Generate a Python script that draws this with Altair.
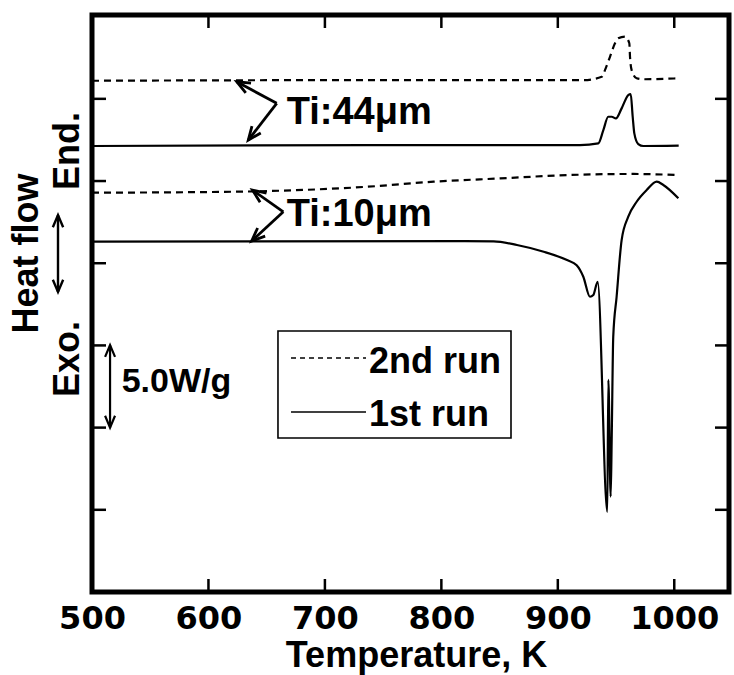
import math
import altair as alt
import pandas as pd

# ---------------- data ----------------
X_DOMAIN = [500, 1047]
Y_DOMAIN = [0, 35.1]
W, H = 637, 577

ti44_2nd_T = [500, 736, 922, 937.7, 940.5, 944.8, 949.1, 951.9, 957.7, 961.4, 962.0, 963.4, 967.7, 973.4, 1003.8]
ti44_2nd_H = [31.10, 31.14, 31.14, 31.34, 31.75, 32.56, 33.38, 33.68, 33.78, 33.38, 32.56, 31.75, 31.25, 31.19, 31.25]

ti44_1st_T = [500, 736, 919, 934.8, 939.1, 943.3, 946.3, 949.9, 954.8, 960.5, 962.6, 964.3, 965.7, 969.1, 973.4, 1003.8]
ti44_1st_H = [27.13, 27.19, 27.19, 27.29, 28.10, 28.91, 28.91, 28.81, 29.42, 30.23, 30.29, 28.91, 27.90, 27.25, 27.13, 27.15]

ti10_2nd_T = [500, 621.3, 735.9, 793.4, 850.6, 907.9, 965.1, 1003.8]
ti10_2nd_H = [24.29, 24.35, 24.65, 24.96, 25.16, 25.36, 25.43, 25.36]

ti10_1st_T = [500, 820.0, 844.9, 864.9, 887.9, 907.9, 916.2, 921.9, 927.6, 930.5, 934.2, 942.5, 943.4,
              945.4, 946.3, 947.6, 950.5, 954.8, 960.5, 967.7, 976.3, 984.9, 990.6, 1003.5]
ti10_1st_H = [21.31, 21.35, 21.33, 21.11, 20.70, 20.19, 19.88, 19.18, 17.96, 18.07, 18.87, 4.88, 12.90,
              5.80, 9.45, 15.53, 17.96, 21.41, 22.83, 23.74, 24.45, 24.96, 24.76, 23.95]

x_tick_values = [500, 600, 700, 800, 900, 1000]
x_minor_ticks = [600, 700, 800, 900, 1000]
y_ticks = [5, 10, 15, 20, 25, 30]

# annotation arrows (tail = vertex, head = tip on the curve)
arrow_T1 = [658.6, 658.6, 664.3, 664.3]
arrow_H1 = [29.73, 29.73, 23.13, 23.13]
arrow_T2 = [624.3, 634.2, 637.8, 637.1]
arrow_H2 = [31.04, 27.49, 24.45, 21.35]

label_text = ["Ti:44\u03bcm", "Ti:10\u03bcm"]
label_T = [667.2, 667.2]
label_H = [28.47, 22.26]

# 5.0 W/g scale bar
bar_T = 515.5
bar_H = [10.0, 15.02]
bar_text = "5.0W/g"
bar_text_T = 525.5
bar_text_H = 12.18

# legend box
legend_box_T = [659.7, 859.8]
legend_box_H = [9.37, 15.88]
legend_line_T = [670.9, 735.3]
legend_line_H = [14.23, 10.95]
legend_text = ["2nd run", "1st run"]
legend_text_T = 737.9
legend_text_H = [13.35, 10.10]

# ---------------- helpers ----------------
PXK = W / (X_DOMAIN[1] - X_DOMAIN[0])
PXH = H / (Y_DOMAIN[1] - Y_DOMAIN[0])


def head_angle(x1, y1, x2, y2):
    dx = (x2 - x1) * PXK
    dy = -(y2 - y1) * PXH
    return math.degrees(math.atan2(dy, dx)) % 360


x_axis = alt.Axis(values=x_tick_values, format="d", labelFont="DejaVu Sans", labelFontWeight="bold",
                  labelFontSize=32, labelColor="black", labelPadding=11, ticks=False, tickSize=0,
                  domain=False, grid=False, labelFlush=False,
                  title="Temperature, K", titleFont="Liberation Sans", titleFontWeight="bold",
                  titleFontSize=36, titleColor="black", titleX=324, titleY=74,
                  titleAlign="center", titleBaseline="alphabetic")
y_axis = alt.Axis(labels=False, ticks=False, tickSize=0, domain=False, grid=False,
                  title="Heat flow", titleFont="Liberation Sans", titleFontWeight="bold",
                  titleFontSize=36, titleColor="black", titleAngle=270, titleX=-66, titleY=238,
                  titleAlign="center", titleBaseline="middle")

XS = alt.Scale(domain=X_DOMAIN, nice=False, zero=False)
YS = alt.Scale(domain=Y_DOMAIN, nice=False, zero=False)


def xenc():
    return alt.X("T:Q", scale=XS, axis=x_axis)


def yenc():
    return alt.Y("H:Q", scale=YS, axis=y_axis)


ARROW = "M-1,-0.42L0,0L-1,0.42"

layers = []

# curves
curves = [
    (ti44_2nd_T, ti44_2nd_H, True),
    (ti44_1st_T, ti44_1st_H, False),
    (ti10_2nd_T, ti10_2nd_H, True),
    (ti10_1st_T, ti10_1st_H, False),
]
for Ts, Hs, dashed in curves:
    df = pd.DataFrame({"T": Ts, "H": Hs, "i": list(range(len(Ts)))})
    kw = dict(interpolate="monotone", strokeWidth=2.2, color="black")
    if dashed:
        kw["strokeDash"] = [7, 5]
    layers.append(alt.Chart(df).mark_line(**kw).encode(x=xenc(), y=yenc(), order="i:Q"))

# inward ticks
xt = pd.DataFrame({"T": x_minor_ticks})
yt = pd.DataFrame({"H": y_ticks})
layers.append(alt.Chart(xt).mark_rule(color="black", strokeWidth=2.5).encode(
    x=xenc(), y=alt.value(H), y2=alt.value(H - 13)))
layers.append(alt.Chart(xt).mark_rule(color="black", strokeWidth=2.5).encode(
    x=xenc(), y=alt.value(0), y2=alt.value(13)))
layers.append(alt.Chart(yt).mark_rule(color="black", strokeWidth=2.5).encode(
    y=yenc(), x=alt.value(0), x2=alt.value(14)))
layers.append(alt.Chart(yt).mark_rule(color="black", strokeWidth=2.5).encode(
    y=yenc(), x=alt.value(W), x2=alt.value(W - 14)))

# annotation arrows
adf = pd.DataFrame({"T": arrow_T1, "H": arrow_H1, "T2": arrow_T2, "H2": arrow_H2})
layers.append(alt.Chart(adf).mark_rule(color="black", strokeWidth=2.8).encode(
    x=xenc(), y=yenc(), x2="T2:Q", y2="H2:Q"))
hdf = pd.DataFrame({"T": arrow_T2, "H": arrow_H2,
                    "ang": [head_angle(a, b, c, d) for a, b, c, d in zip(arrow_T1, arrow_H1, arrow_T2, arrow_H2)]})
layers.append(alt.Chart(hdf).mark_point(shape=ARROW, filled=False, color="black", strokeWidth=2.8,
                                        size=700, opacity=1, strokeJoin="miter").encode(
    x=xenc(), y=yenc(), angle=alt.Angle("ang:Q", scale=None)))

# labels Ti:44um / Ti:10um
ldf = pd.DataFrame({"T": label_T, "H": label_H, "label": label_text})
layers.append(alt.Chart(ldf).mark_text(align="left", baseline="alphabetic", font="Liberation Sans",
                                       fontWeight="bold", fontSize=38, color="black").encode(
    x=xenc(), y=yenc(), text="label:N"))

# scale bar
bdf = pd.DataFrame({"T": [bar_T], "H": [bar_H[0]], "H2": [bar_H[1]]})
layers.append(alt.Chart(bdf).mark_rule(color="black", strokeWidth=2.2).encode(
    x=xenc(), y=yenc(), y2="H2:Q"))
bhdf = pd.DataFrame({"T": [bar_T, bar_T], "H": bar_H, "ang": [90, 270]})
layers.append(alt.Chart(bhdf).mark_point(shape=ARROW, filled=False, color="black", strokeWidth=2.2,
                                         size=560, opacity=1).encode(
    x=xenc(), y=yenc(), angle=alt.Angle("ang:Q", scale=None)))
btdf = pd.DataFrame({"T": [bar_text_T], "H": [bar_text_H], "label": [bar_text]})
layers.append(alt.Chart(btdf).mark_text(align="left", baseline="alphabetic", font="Liberation Sans",
                                        fontWeight="bold", fontSize=34, color="black").encode(
    x=xenc(), y=yenc(), text="label:N"))

# legend box
lbdf = pd.DataFrame({"T": [legend_box_T[0]], "T2": [legend_box_T[1]],
                     "H": [legend_box_H[0]], "H2": [legend_box_H[1]]})
layers.append(alt.Chart(lbdf).mark_rect(fill="white", stroke="black", strokeWidth=1.6).encode(
    x=xenc(), x2="T2:Q", y=yenc(), y2="H2:Q"))
ld1 = pd.DataFrame({"T": [legend_line_T[0]], "T2": [legend_line_T[1]], "H": [legend_line_H[0]]})
layers.append(alt.Chart(ld1).mark_rule(color="black", strokeWidth=1.5, strokeDash=[5, 4]).encode(
    x=xenc(), x2="T2:Q", y=yenc()))
ld2 = pd.DataFrame({"T": [legend_line_T[0]], "T2": [legend_line_T[1]], "H": [legend_line_H[1]]})
layers.append(alt.Chart(ld2).mark_rule(color="black", strokeWidth=1.5).encode(
    x=xenc(), x2="T2:Q", y=yenc()))
ltdf = pd.DataFrame({"T": [legend_text_T] * 2, "H": legend_text_H, "label": legend_text})
layers.append(alt.Chart(ltdf).mark_text(align="left", baseline="alphabetic", font="Liberation Sans",
                                        fontWeight="bold", fontSize=36, color="black").encode(
    x=xenc(), y=yenc(), text="label:N"))

# y-axis side labels: End. / Exo. and double arrow
one = pd.DataFrame({"k": [0]})
side_text = ["End.", "Exo."]
side_y = [136, 344]
for t, yy in zip(side_text, side_y):
    layers.append(alt.Chart(one).mark_text(align="center", baseline="middle", angle=270,
                                           font="Liberation Sans", fontWeight="bold", fontSize=36,
                                           color="black").encode(
        x=alt.value(-24), y=alt.value(yy), text=alt.value(t)))
layers.append(alt.Chart(one).mark_rule(color="black", strokeWidth=2.4).encode(
    x=alt.value(-34), y=alt.value(200), y2=alt.value(277)))
for yy, ang in [(200, 270), (277, 90)]:
    layers.append(alt.Chart(one).mark_point(shape=ARROW, filled=False, color="black", strokeWidth=2.4,
                                            size=600, opacity=1).encode(
        x=alt.value(-34), y=alt.value(yy), angle=alt.value(ang)))

# heavy frame
layers.append(alt.Chart(one).mark_rect(filled=False, stroke="black", strokeWidth=5).encode(
    x=alt.value(0), x2=alt.value(W), y=alt.value(0), y2=alt.value(H)))

chart = alt.layer(*layers).properties(
    width=W, height=H,
    autosize=alt.AutoSizeParams(type="none"),
    padding={"left": 92, "top": 15, "right": 5, "bottom": 83},
    background="white",
).configure_view(stroke=None)

chart.save("out.html", embed_options={"renderer": "svg", "actions": False})
